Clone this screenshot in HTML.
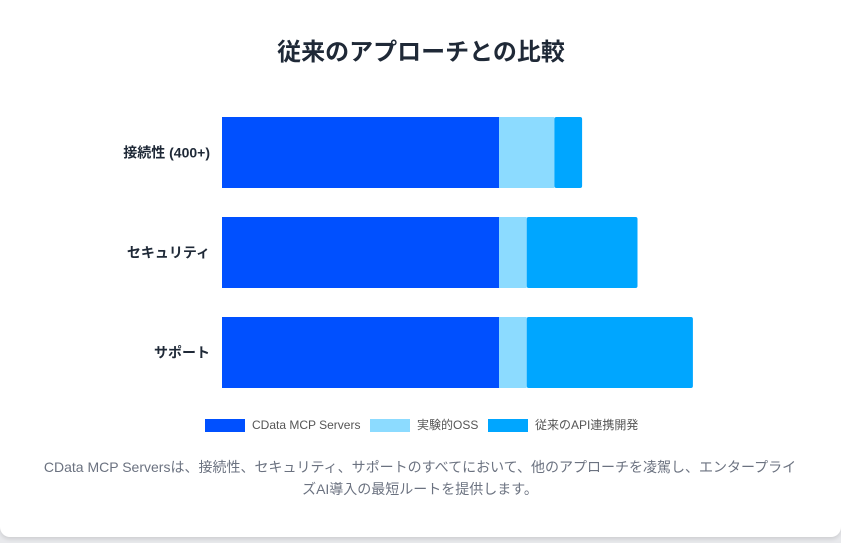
<!DOCTYPE html>
<html><head><meta charset="utf-8"><style>
body{margin:0;width:841px;height:543px;background:#e8e9ec;font-family:"Liberation Sans","Noto Sans CJK JP",sans-serif;overflow:hidden}
#card{position:absolute;left:0;top:-10px;width:841px;height:547px;background:#fff;border-radius:10px;box-shadow:0 2px 4px rgba(0,0,0,.12)}
</style></head><body>
<div id="card"></div>
<svg id="chart" width="841" height="543" style="position:absolute;left:0;top:0">
<text x="421" y="60" text-anchor="middle" font-size="24" font-weight="bold" fill="#1f2937">従来のアプローチとの比較</text>
<g id="bars"></g><g id="legend"></g>
<text x="420" y="472" text-anchor="middle" font-size="14" fill="#6b7280">CData MCP Serversは、接続性、セキュリティ、サポートのすべてにおいて、他のアプローチを凌駕し、エンタープライ</text>
<text x="420" y="494" text-anchor="middle" font-size="14" fill="#6b7280">ズAI導入の最短ルートを提供します。</text>
</svg>
<script>
const categories=["接続性 (400+)","セキュリティ","サポート"];
const seriesNames=["CData MCP Servers","実験的OSS","従来のAPI連携開発"];
const cdata=[5,5,5];
const oss=[1,0.5,0.5];
const traditional=[0.5,2,3];
const colors=["#0050ff","#8cdbff","#00a6ff"];
const NS="http://www.w3.org/2000/svg";
const x0=222,unit=55.4,rowTop=117,rowStep=100,barH=71;
const xs=v=>v*unit;
const g=document.getElementById('bars');
const series=[cdata,oss,traditional];
categories.forEach((c,i)=>{
  const y=rowTop+i*rowStep;
  let acc=0;
  series.forEach((s,j)=>{
    const r=document.createElementNS(NS,'rect');
    r.setAttribute('x',x0+xs(acc));r.setAttribute('y',y);
    r.setAttribute('width',xs(s[i]));r.setAttribute('height',barH);
    r.setAttribute('fill',colors[j]);
    if(j===2){r.setAttribute('rx',2);}
    
    
    g.appendChild(r);acc+=s[i];
  });
  const t=document.createElementNS(NS,'text');
  t.setAttribute('x',210);t.setAttribute('y',y+barH/2+5);
  t.setAttribute('text-anchor','end');t.setAttribute('font-size','14');
  t.setAttribute('font-weight','bold');t.setAttribute('fill','#1f2937');
  t.textContent=c;
  
  
  g.appendChild(t);
});
const lg=document.getElementById('legend');
const lx=[205,370,488];
seriesNames.forEach((n,j)=>{
  const r=document.createElementNS(NS,'rect');
  r.setAttribute('x',lx[j]);r.setAttribute('y',419);r.setAttribute('width',40);r.setAttribute('height',13);
  r.setAttribute('fill',colors[j]);
  
  
  lg.appendChild(r);
  const t=document.createElementNS(NS,'text');
  t.setAttribute('x',lx[j]+47);t.setAttribute('y',429);t.setAttribute('font-size','12');t.setAttribute('fill','#555');
  t.textContent=n;
  
  
  lg.appendChild(t);
});
</script>
</body></html>
